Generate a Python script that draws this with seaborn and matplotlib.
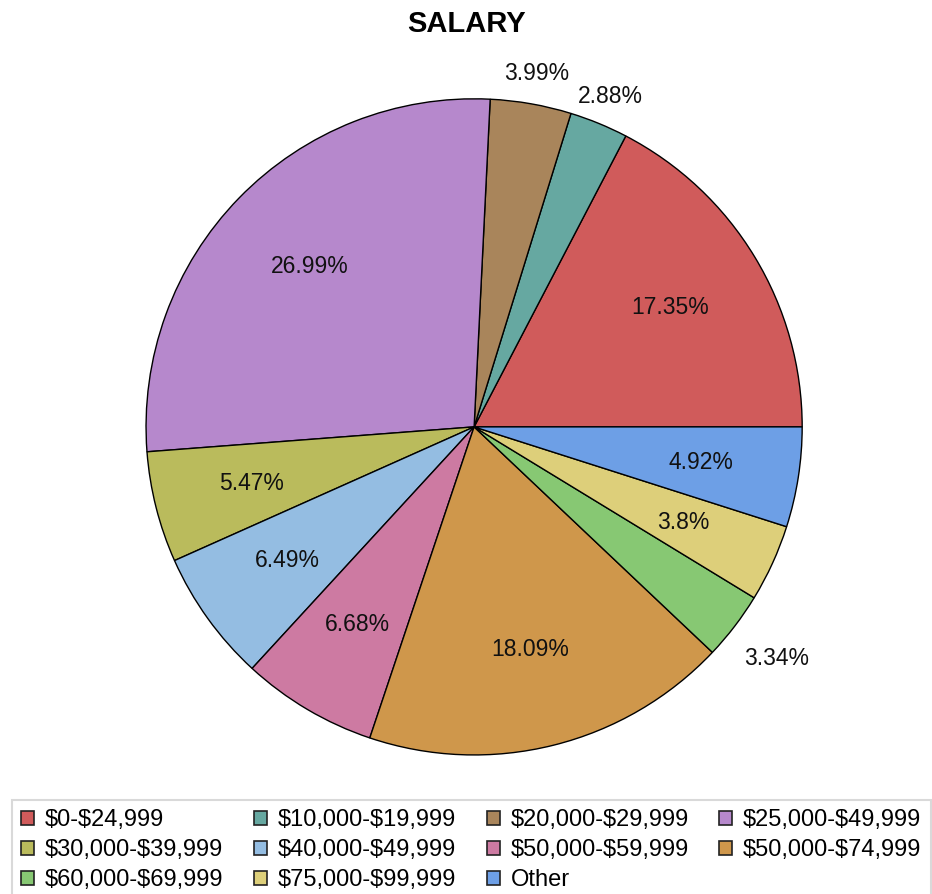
import numpy as np
import matplotlib
matplotlib.use("Agg")
import matplotlib.pyplot as plt
import matplotlib.patches as mpatches
import seaborn as sns

labels = ["$0-$24,999", "$10,000-$19,999", "$20,000-$29,999", "$25,000-$49,999",
          "$30,000-$39,999", "$40,000-$49,999", "$50,000-$59,999", "$50,000-$74,999",
          "$60,000-$69,999", "$75,000-$99,999", "Other"]
pcts = [17.35, 2.88, 3.99, 26.99, 5.47, 6.49, 6.68, 18.09, 3.34, 3.8, 4.92]
pct_text = ["17.35%", "2.88%", "3.99%", "26.99%", "5.47%", "6.49%", "6.68%",
            "18.09%", "3.34%", "3.8%", "4.92%"]
colors = ["#D05B5B", "#66A8A1", "#A9855B", "#B688CC", "#BABB5C", "#94BDE2",
          "#CD7AA2", "#CF974B", "#87C873", "#DDCF7A", "#6D9FE6"]

sns.set_style("white")
plt.rcParams['font.family'] = ['Liberation Sans', 'DejaVu Sans']
plt.rcParams['text.color'] = 'black'

fig = plt.figure(figsize=(9.32, 8.94), dpi=100)
ax = fig.add_axes([0.1567, 0.1555, 0.704, 0.734])
pal = sns.color_palette(colors)

wedges, _ = ax.pie(pcts, colors=pal, startangle=0, counterclock=True,
                   wedgeprops=dict(edgecolor="black", linewidth=1.0))
ax.set_xlim(-1, 1)
ax.set_ylim(-1, 1)
ax.set_aspect("equal")

# percentage labels; the tiny slices get their label outside the pie
label_r = {1: 1.09, 2: 1.095, 8: 1.16}
for i, (w, t) in enumerate(zip(wedges, pct_text)):
    ang = np.deg2rad((w.theta1 + w.theta2) / 2)
    r = label_r.get(i, 0.70)
    ax.text(r * np.cos(ang), r * np.sin(ang), t, ha="center", va="center",
            fontsize=16.5, color="#111111")

fig.text(0.5, 0.973, "SALARY", ha="center", va="center", fontsize=21,
         fontweight="bold")

# legend filled row by row
order = [0, 4, 8, 1, 5, 9, 2, 6, 10, 3, 7]
handles = [mpatches.Patch(facecolor=colors[i], edgecolor="#222222", linewidth=1.2)
           for i in order]
leg_labels = [labels[i].replace("$", r"\$") for i in order]
leg = fig.legend(handles, leg_labels, loc="upper left", ncol=4,
                 bbox_to_anchor=(12 / 932, 1 - 800 / 894),
                 frameon=True, fancybox=False, fontsize=17,
                 handlelength=0.55, handleheight=0.55, handletextpad=0.45,
                 columnspacing=1.3, labelspacing=0.33, borderpad=0.4,
                 borderaxespad=0)
leg.get_frame().set_edgecolor("#d0d0d0")
leg.get_frame().set_linewidth(1.5)

fig.savefig("out.png", dpi=100)
